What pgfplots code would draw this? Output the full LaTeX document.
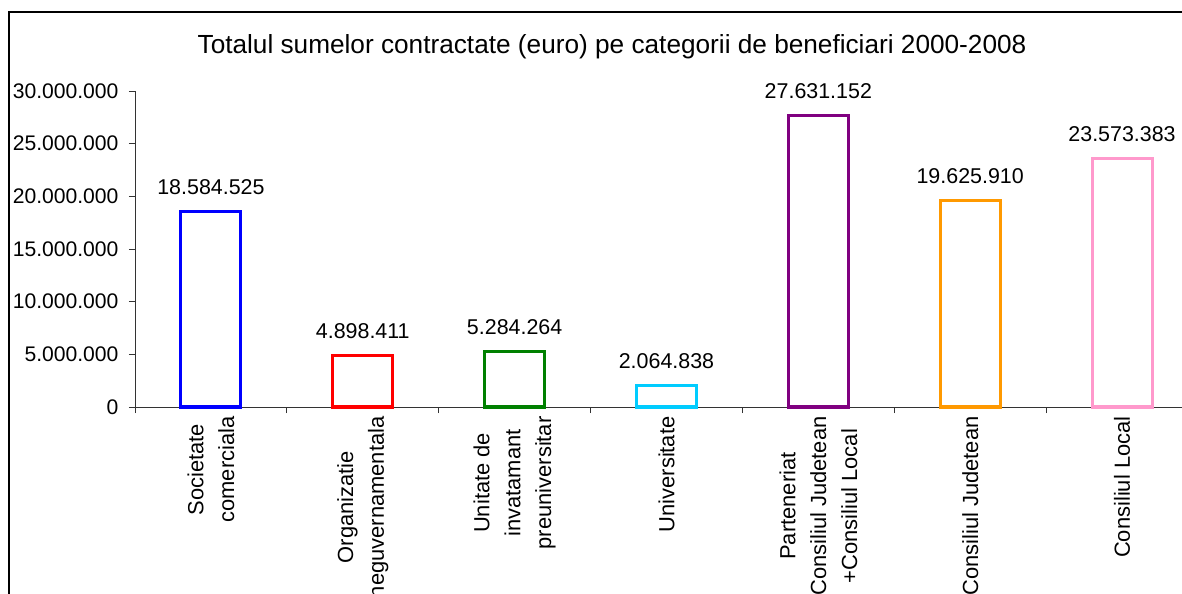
\documentclass[border=0pt]{standalone}
\usepackage{pgfplots}
\pgfplotsset{compat=1.18}
\usepackage{fontspec}
\setmainfont{Liberation Sans}
\definecolor{cblue}{RGB}{0,0,255}
\definecolor{cred}{RGB}{255,0,0}
\definecolor{cgreen}{RGB}{0,128,0}
\definecolor{ccyan}{RGB}{0,204,255}
\definecolor{cpurple}{RGB}{128,0,128}
\definecolor{corange}{RGB}{255,153,0}
\definecolor{cpink}{RGB}{255,153,204}
\newcommand{\lblfont}{\fontsize{22}{31}\selectfont}
\newcommand{\yfont}{\fontsize{21.2}{26}\selectfont}
\newcommand{\valfont}{\fontsize{21.5}{26}\selectfont}
\begin{document}
\begin{tikzpicture}
\useasboundingbox (0,0) rectangle (1182bp,594bp);
\clip (0,0) rectangle (1182bp,594bp);
\fill[white] (0,0) rectangle (1182bp,594bp);
\draw[line width=1.3bp] (9bp,-20bp) -- (9bp,582bp) -- (1210bp,582bp);
\node[font=\fontsize{26.3}{30}\selectfont] at (612bp,547bp) {Totalul sumelor contractate (euro) pe categorii de beneficiari 2000-2008};
\begin{axis}[
  at={(135bp,187bp)}, anchor=south west,
  scale only axis, width=1063bp, height=316bp,
  xmin=-0.5, xmax=6.5, ymin=0, ymax=30000000,
  axis lines*=left,
  axis line style={line width=0.8bp, draw=black!80},
  clip=false,
  tick align=outside,
  major tick length=6bp, minor tick length=6bp,
  ytick={0,5000000,10000000,15000000,20000000,25000000,30000000},
  scaled y ticks=false,
  yticklabel style={font=\yfont, xshift=-7bp, /pgf/number format/.cd, fixed, precision=0, 1000 sep={.}, assume math mode=true},
  ytick style={line width=0.8bp, draw=black!80},
  xtick={0,1,2,3,4,5,6},
  minor xtick={-0.5,0.5,1.5,2.5,3.5,4.5,5.5,6.5},
  major x tick style={draw=none},
  minor x tick style={line width=0.8bp, draw=black!80},
  xticklabels={{Societate\\comerciala},{Organizatie\\neguvernamentala},{Unitate de\\invatamant\\preuniversitar},{Universitate},{Parteneriat\\Consiliul Judetean\\+Consiliul Local},{Consiliul Judetean},{Consiliul Local}},
  xticklabel style={font=\lblfont, rotate=90, anchor=east, align=center},
  every node near coord/.append style={font=\valfont, text=black, yshift=12bp},
]
\addplot[ybar, bar width=60bp, draw=cblue, fill=white, line width=3bp, nodes near coords={18.584.525}] coordinates {(0,18584525)};
\addplot[ybar, bar width=60bp, draw=cred, fill=white, line width=3bp, nodes near coords={4.898.411}] coordinates {(1,4898411)};
\addplot[ybar, bar width=60bp, draw=cgreen, fill=white, line width=3bp, nodes near coords={5.284.264}] coordinates {(2,5284264)};
\addplot[ybar, bar width=60bp, draw=ccyan, fill=white, line width=3bp, nodes near coords={2.064.838}] coordinates {(3,2064838)};
\addplot[ybar, bar width=60bp, draw=cpurple, fill=white, line width=3bp, nodes near coords={27.631.152}] coordinates {(4,27631152)};
\addplot[ybar, bar width=60bp, draw=corange, fill=white, line width=3bp, nodes near coords={19.625.910}] coordinates {(5,19625910)};
\addplot[ybar, bar width=60bp, draw=cpink, fill=white, line width=3bp, nodes near coords={23.573.383}] coordinates {(6,23573383)};
\end{axis}
\end{tikzpicture}
\end{document}
